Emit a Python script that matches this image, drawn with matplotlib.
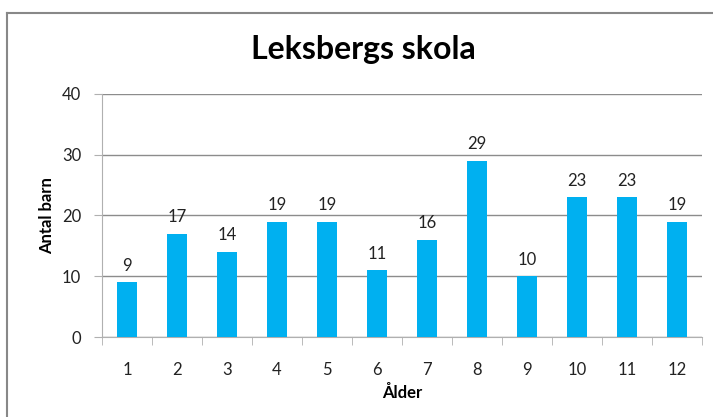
import matplotlib
matplotlib.use("Agg")
import matplotlib.pyplot as plt
from matplotlib.lines import Line2D

plt.rcParams['font.family'] = ['Lato', 'DejaVu Sans']

ages = [1, 2, 3, 4, 5, 6, 7, 8, 9, 10, 11, 12]
counts = [9, 17, 14, 19, 19, 11, 16, 29, 10, 23, 23, 19]
title = "Leksbergs skola"
xlabel = "Ålder"
ylabel = "Antal barn"

W, H = 713, 417
fig = plt.figure(figsize=(W/100, H/100), dpi=100)
ax = fig.add_axes([102/W, 1-337/H, 600/W, 243/H])

x = list(range(len(ages)))
ax.bar(x, counts, width=0.4, color='#00B0F0', zorder=3)
for xi, c in zip(x, counts):
    ax.text(xi, c + 1.4, str(c), ha='center', va='bottom', fontsize=12, color='#222222')

ax.set_xlim(-0.5, len(ages) - 0.5)
ax.set_ylim(0, 40)
ax.set_yticks([0, 10, 20, 30, 40])
ax.set_xticks(x)
ax.set_xticklabels([str(a) for a in ages])
ax.set_xticks([i + 0.5 for i in range(-1, len(ages))], minor=True)
ax.yaxis.grid(True, color='#8c8c8c', linewidth=1, zorder=0)
for s in ['top', 'right']:
    ax.spines[s].set_visible(False)
ax.spines['left'].set_color('#b0b0b0')
ax.spines['bottom'].set_color('#b0b0b0')
ax.tick_params(axis='y', length=6, color='#b0b0b0', labelsize=12, pad=9, labelcolor='#222222')
ax.tick_params(axis='x', which='major', length=0, labelsize=12, pad=18, labelcolor='#222222')
ax.tick_params(axis='x', which='minor', length=6, color='#b0b0b0')

ax.set_xlabel(xlabel, fontsize=12, fontweight='bold', labelpad=5)
ax.set_ylabel(ylabel, fontsize=12, fontweight='bold', labelpad=5)

fig.text(363/W, 1-50/H, title, ha='center', va='center', fontsize=23, fontweight='bold')

# chart border
fig.add_artist(Line2D([7/W, 7/W], [0, 1-13/H], transform=fig.transFigure, color='#888888', lw=1.5))
fig.add_artist(Line2D([7/W, 1], [1-13/H, 1-13/H], transform=fig.transFigure, color='#888888', lw=1.5))

fig.savefig('out.png', dpi=100)
